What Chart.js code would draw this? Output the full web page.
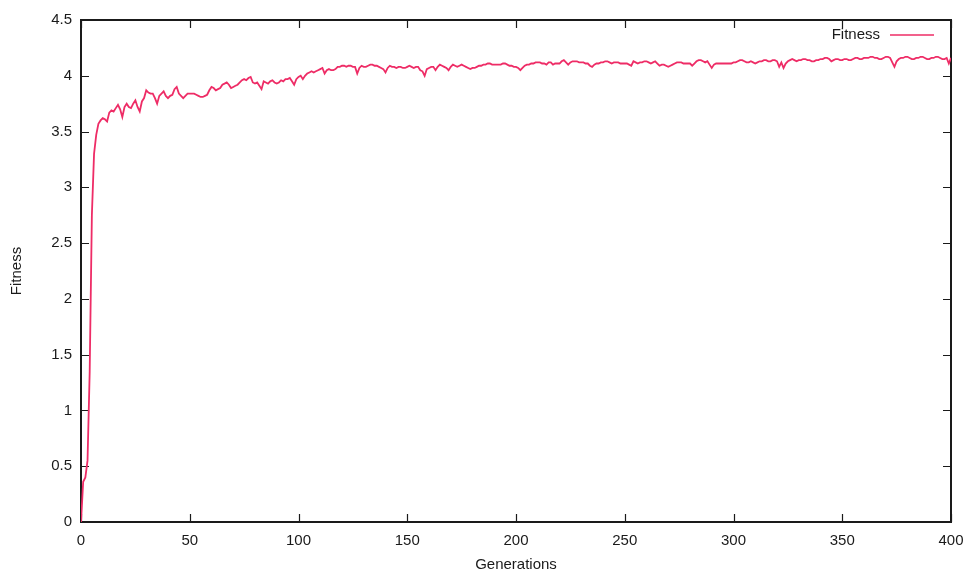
<!DOCTYPE html>
<html>
<head>
<meta charset="utf-8">
<title>Fitness over generations</title>
<script src="https://cdn.jsdelivr.net/npm/chart.js@4/dist/chart.umd.min.js"></script>
<style>
    html, body { margin: 0; padding: 0; background: #ffffff; }
    #wrap { width: 975px; height: 581px; }
</style>
</head>
<body>
<div id="wrap"><canvas id="fitnessChart"></canvas></div>
<script>
// best fitness per generation (index = generation)
const fitness = [
    0.00, 0.36, 0.40, 0.55, 1.35, 2.75, 3.30, 3.47, 3.57, 3.60,
    3.62, 3.61, 3.59, 3.67, 3.69, 3.68, 3.71, 3.74, 3.70, 3.63,
    3.72, 3.75, 3.72, 3.71, 3.75, 3.78, 3.72, 3.68, 3.77, 3.80,
    3.87, 3.85, 3.84, 3.84, 3.80, 3.75, 3.82, 3.84, 3.86, 3.82,
    3.80, 3.82, 3.83, 3.88, 3.90, 3.84, 3.82, 3.80, 3.82, 3.84,
    3.84, 3.84, 3.84, 3.83, 3.82, 3.81, 3.81, 3.82, 3.83, 3.87,
    3.90, 3.89, 3.87, 3.88, 3.89, 3.92, 3.93, 3.94, 3.92, 3.89,
    3.90, 3.91, 3.92, 3.94, 3.96, 3.97, 3.96, 3.98, 3.99, 3.94,
    3.93, 3.94, 3.91, 3.88, 3.95, 3.94, 3.93, 3.95, 3.96, 3.94,
    3.93, 3.94, 3.96, 3.95, 3.97, 3.97, 3.98, 3.95, 3.92, 3.97,
    3.99, 4.00, 3.97, 4.00, 4.02, 4.03, 4.04, 4.03, 4.04, 4.05,
    4.06, 4.07, 4.02, 4.05, 4.06, 4.05, 4.05, 4.06, 4.08, 4.08,
    4.09, 4.09, 4.08, 4.09, 4.09, 4.08, 4.08, 4.02, 4.07, 4.09,
    4.08, 4.08, 4.09, 4.10, 4.10, 4.09, 4.09, 4.08, 4.07, 4.06,
    4.03, 4.07, 4.09, 4.08, 4.08, 4.07, 4.08, 4.08, 4.07, 4.07,
    4.08, 4.09, 4.08, 4.07, 4.08, 4.08, 4.05, 4.04, 4.00, 4.06,
    4.07, 4.08, 4.08, 4.05, 4.08, 4.10, 4.09, 4.08, 4.07, 4.05,
    4.08, 4.10, 4.09, 4.08, 4.09, 4.10, 4.09, 4.08, 4.07, 4.06,
    4.07, 4.07, 4.08, 4.09, 4.09, 4.10, 4.10, 4.11, 4.11, 4.10,
    4.10, 4.10, 4.10, 4.10, 4.11, 4.11, 4.10, 4.09, 4.09, 4.08,
    4.08, 4.07, 4.05, 4.07, 4.09, 4.10, 4.10, 4.11, 4.11, 4.12,
    4.12, 4.12, 4.11, 4.11, 4.10, 4.12, 4.12, 4.10, 4.11, 4.11,
    4.11, 4.13, 4.14, 4.12, 4.10, 4.12, 4.13, 4.13, 4.13, 4.12,
    4.12, 4.12, 4.11, 4.11, 4.09, 4.08, 4.10, 4.11, 4.11, 4.12,
    4.12, 4.13, 4.13, 4.12, 4.11, 4.12, 4.12, 4.12, 4.11, 4.11,
    4.11, 4.11, 4.10, 4.09, 4.13, 4.12, 4.11, 4.12, 4.12, 4.13,
    4.13, 4.12, 4.11, 4.12, 4.13, 4.11, 4.09, 4.10, 4.10, 4.09,
    4.08, 4.09, 4.10, 4.11, 4.12, 4.12, 4.12, 4.11, 4.11, 4.11,
    4.11, 4.09, 4.11, 4.13, 4.14, 4.14, 4.13, 4.12, 4.13, 4.10,
    4.07, 4.10, 4.11, 4.11, 4.11, 4.11, 4.11, 4.11, 4.11, 4.11,
    4.12, 4.12, 4.13, 4.14, 4.14, 4.13, 4.12, 4.12, 4.13, 4.12,
    4.11, 4.12, 4.13, 4.13, 4.14, 4.14, 4.13, 4.13, 4.14, 4.14,
    4.13, 4.08, 4.12, 4.07, 4.11, 4.13, 4.14, 4.15, 4.14, 4.13,
    4.14, 4.14, 4.15, 4.15, 4.14, 4.14, 4.13, 4.13, 4.14, 4.14,
    4.15, 4.15, 4.16, 4.16, 4.15, 4.13, 4.14, 4.15, 4.15, 4.14,
    4.14, 4.15, 4.15, 4.14, 4.14, 4.15, 4.16, 4.16, 4.15, 4.15,
    4.16, 4.16, 4.16, 4.17, 4.17, 4.16, 4.16, 4.15, 4.15, 4.16,
    4.17, 4.17, 4.16, 4.12, 4.08, 4.13, 4.15, 4.16, 4.16, 4.17,
    4.17, 4.16, 4.15, 4.15, 4.16, 4.16, 4.17, 4.17, 4.16, 4.15,
    4.15, 4.16, 4.16, 4.17, 4.17, 4.16, 4.15, 4.15, 4.16, 4.11,
    4.16
];

const genTicks = [0, 50, 100, 150, 200, 250, 300, 350, 400];
const fitnessTicks = [0, 0.5, 1, 1.5, 2, 2.5, 3, 3.5, 4, 4.5];

const lineColor = '#ee2c66';
const axisColor = '#1a1a1a';
const fontFamily = '"Liberation Sans", Arial, Helvetica, sans-serif';

// gnuplot-like box: frame plus tick marks pointing into the plot on all four sides
const boxFrame = {
    id: 'boxFrame',
    beforeDatasetsDraw(chart) {
        const { ctx, chartArea: a, scales: { x, y } } = chart;
        const len = 8;
        ctx.save();
        ctx.strokeStyle = axisColor;
        ctx.lineWidth = 2;
        ctx.strokeRect(a.left, a.top, a.right - a.left, a.bottom - a.top);
        ctx.lineWidth = 1.2;
        ctx.beginPath();
        x.ticks.forEach(t => {
            const px = Math.round(x.getPixelForValue(t.value)) + 0.5;
            ctx.moveTo(px, a.bottom); ctx.lineTo(px, a.bottom - len);
            ctx.moveTo(px, a.top); ctx.lineTo(px, a.top + len);
        });
        y.ticks.forEach(t => {
            const py = Math.round(y.getPixelForValue(t.value)) + 0.5;
            ctx.moveTo(a.left, py); ctx.lineTo(a.left + len, py);
            ctx.moveTo(a.right, py); ctx.lineTo(a.right - len, py);
        });
        ctx.stroke();
        ctx.restore();
    }
};

// key drawn inside the top right corner of the plot
const innerKey = {
    id: 'innerKey',
    afterDatasetsDraw(chart) {
        const { ctx, chartArea: a } = chart;
        const ds = chart.data.datasets[0];
        const yMid = a.top + 15;
        const lineEnd = a.right - 17;
        const lineStart = lineEnd - 44;
        ctx.save();
        ctx.font = '15px ' + fontFamily;
        ctx.fillStyle = axisColor;
        ctx.textAlign = 'right';
        ctx.textBaseline = 'middle';
        ctx.fillText(ds.label, lineStart - 10, yMid);
        ctx.strokeStyle = ds.borderColor;
        ctx.lineWidth = 1.5;
        ctx.beginPath();
        ctx.moveTo(lineStart, yMid);
        ctx.lineTo(lineEnd, yMid);
        ctx.stroke();
        ctx.restore();
    }
};

new Chart(document.getElementById('fitnessChart'), {
    type: 'line',
    data: {
        datasets: [{
            label: 'Fitness',
            data: fitness.map((v, i) => ({ x: i, y: v })),
            borderColor: lineColor,
            borderWidth: 1.8,
            pointRadius: 0,
            tension: 0,
            fill: false
        }]
    },
    options: {
        responsive: true,
        maintainAspectRatio: false,
        animation: false,
        events: [],
        layout: { padding: { top: 20, right: 24, left: 0, bottom: 0 } },
        plugins: {
            legend: { display: false },
            tooltip: { enabled: false }
        },
        scales: {
            x: {
                type: 'linear',
                min: 0,
                max: 400,
                afterBuildTicks: s => { s.ticks = genTicks.map(v => ({ value: v })); },
                afterFit: s => { s.height = 59; },
                grid: { display: false, drawTicks: false },
                border: { display: false },
                ticks: {
                    padding: 10,
                    maxRotation: 0,
                    color: axisColor,
                    font: { family: fontFamily, size: 15 }
                },
                title: {
                    display: true,
                    text: 'Generations',
                    color: axisColor,
                    padding: { top: 0, bottom: 7 },
                    font: { family: fontFamily, size: 15 }
                }
            },
            y: {
                min: 0,
                max: 4.5,
                afterBuildTicks: s => { s.ticks = fitnessTicks.map(v => ({ value: v })); },
                afterFit: s => { s.width = 81; },
                grid: { display: false, drawTicks: false },
                border: { display: false },
                ticks: {
                    padding: 9,
                    color: axisColor,
                    font: { family: fontFamily, size: 15 },
                    callback: v => String(v)
                },
                title: {
                    display: true,
                    text: 'Fitness',
                    color: axisColor,
                    padding: { top: 8, bottom: 0 },
                    font: { family: fontFamily, size: 15 }
                }
            }
        }
    },
    plugins: [boxFrame, innerKey]
});
</script>
</body>
</html>
